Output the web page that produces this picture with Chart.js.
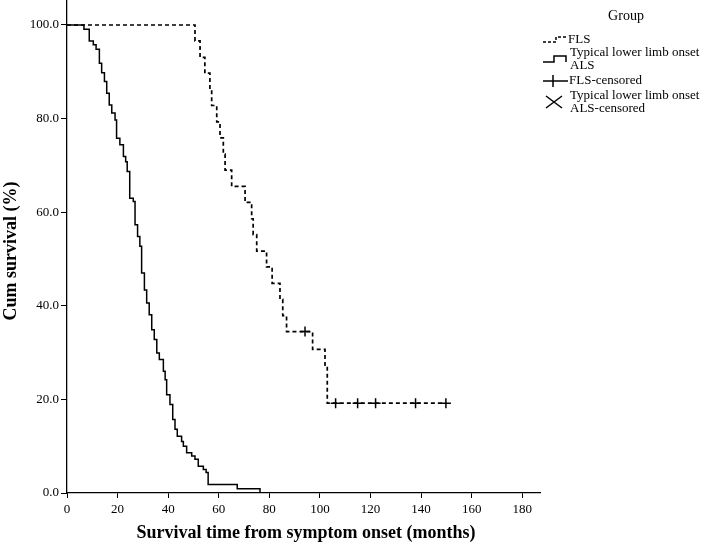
<!DOCTYPE html>
<html><head><meta charset="utf-8">
<script src="https://cdn.jsdelivr.net/npm/chart.js@4.4.0/dist/chart.umd.min.js"></script>
<style>html,body{margin:0;padding:0;background:#fff;}#wrap{position:relative;width:708px;height:547px;}</style>
</head><body><div id="wrap"><canvas id="c" width="708" height="547"></canvas></div>
<script>
// ---- data ----
const groupNames = ["FLS", "Typical lower limb onset ALS"];
const flsTimes = [0, 50.6, 52.6, 54.5, 56.5, 57.2, 59.2, 60.5, 61.8, 62.5, 65.1, 70.4, 73.0, 73.6, 75.0, 78.9, 81.1, 84.2, 85.3, 86.8, 97.1, 102.0, 102.9];
const flsSurv  = [100, 96.6, 93.1, 89.7, 86.2, 82.8, 79.3, 75.9, 72.4, 69.0, 65.5, 62.1, 58.6, 55.2, 51.7, 48.3, 44.8, 41.4, 37.9, 34.5, 30.7, 26.8, 19.2];
const flsCensorTimes = [94.1, 106.2, 114.9, 122.0, 137.8, 149.8];
const flsCensorSurv  = [34.5, 19.2, 19.2, 19.2, 19.2, 19.2];
const alsTimes = [0, 6.7, 8.8, 10.4, 11.5, 12.8, 13.7, 14.8, 15.7, 16.7, 17.7, 19.0, 19.6, 20.9, 22.3, 23.2, 23.8, 24.8, 26.2, 26.9, 27.9, 28.8, 29.5, 30.6, 31.5, 32.5, 33.5, 34.5, 35.5, 36.5, 38.1, 38.8, 39.4, 40.7, 41.8, 42.7, 43.6, 45.3, 46.0, 47.3, 49.3, 50.6, 51.9, 53.9, 55.0, 55.8, 67.3, 76.3];
const alsSurv  = [100, 99.1, 96.6, 95.8, 94.8, 91.8, 89.8, 87.9, 85.4, 82.9, 81.2, 79.7, 75.8, 74.4, 71.9, 70.8, 68.7, 63.0, 62.3, 57.3, 54.8, 52.7, 47.0, 43.4, 40.6, 38.1, 34.9, 32.8, 29.9, 28.5, 26.0, 24.2, 21.0, 18.9, 15.7, 13.6, 12.1, 11.0, 10.0, 8.6, 7.9, 7.2, 5.7, 5.0, 4.4, 1.8, 0.9, 0];
const xTicks = [0, 20, 40, 60, 80, 100, 120, 140, 160, 180];
const yTicks = [0, 20, 40, 60, 80, 100];
const xTitle = "Survival time from symptom onset (months)";
const yTitle = "Cum survival (%)";
const legendTitle = "Group";

// ---- build datasets ----
const flsLine = flsTimes.map((t, i) => ({x: t, y: flsSurv[i]}));
flsLine.push({x: flsCensorTimes[flsCensorTimes.length - 1], y: flsCensorSurv[flsCensorSurv.length - 1]});
const alsLine = alsTimes.map((t, i) => ({x: t, y: alsSurv[i]}));
const flsCens = flsCensorTimes.map((t, i) => ({x: t, y: flsCensorSurv[i]}));

const SERIF = '"Liberation Serif", "Times New Roman", serif';

const extras = {
  id: 'extras',
  afterDraw(chart) {
    const ctx = chart.ctx;
    ctx.save();
    ctx.fillStyle = '#000';
    ctx.strokeStyle = '#000';
    // axis titles
    ctx.font = 'bold 18px ' + SERIF;
    ctx.textAlign = 'center';
    ctx.textBaseline = 'middle';
    ctx.fillText(xTitle, 306, 533);
    ctx.save();
    ctx.translate(11, 251);
    ctx.rotate(-Math.PI / 2);
    ctx.fillText(yTitle, 0, 0);
    ctx.restore();
    // legend
    ctx.font = '14px ' + SERIF;
    ctx.fillText(legendTitle, 626, 16);
    ctx.textAlign = 'left';
    ctx.font = '13px ' + SERIF;
    ctx.fillText(groupNames[0], 568, 40);
    ctx.fillText("Typical lower limb onset", 570, 53);
    ctx.fillText("ALS", 570, 66);
    ctx.fillText(groupNames[0] + "-censored", 569, 81);
    ctx.fillText("Typical lower limb onset", 570, 96);
    ctx.fillText("ALS-censored", 570, 109);
    // symbols
    ctx.lineWidth = 1.5;
    ctx.setLineDash([3, 2]);
    ctx.beginPath();
    ctx.moveTo(543, 42); ctx.lineTo(556, 42); ctx.lineTo(556, 37); ctx.lineTo(567, 37);
    ctx.stroke();
    ctx.setLineDash([]);
    ctx.beginPath();
    ctx.moveTo(543, 62); ctx.lineTo(554, 62); ctx.lineTo(554, 56); ctx.lineTo(566, 56); ctx.lineTo(566, 62);
    ctx.stroke();
    ctx.beginPath();
    ctx.moveTo(543, 81); ctx.lineTo(568, 81);
    ctx.moveTo(553, 75); ctx.lineTo(553, 87);
    ctx.stroke();
    ctx.beginPath();
    ctx.moveTo(546, 96); ctx.lineTo(562, 108);
    ctx.moveTo(546, 108); ctx.lineTo(562, 96);
    ctx.stroke();
    ctx.restore();
  }
};

new Chart(document.getElementById('c'), {
  type: 'line',
  data: {
    datasets: [
      {label: groupNames[0], data: flsLine, stepped: 'before', borderColor: '#000', borderWidth: 1.7, borderDash: [4, 3], pointRadius: 0, fill: false},
      {label: groupNames[1], data: alsLine, stepped: 'before', borderColor: '#000', borderWidth: 1.5, pointRadius: 0, fill: false},
      {label: groupNames[0] + '-censored', data: flsCens, showLine: false, pointStyle: 'cross', pointRadius: 5, borderColor: '#000', borderWidth: 1.5, pointBorderWidth: 1.5}
    ]
  },
  options: {
    responsive: false,
    animation: false,
    devicePixelRatio: 1,
    layout: {autoPadding: false, padding: {left: 0, right: 168, top: 0, bottom: 0}},
    plugins: {legend: {display: false}, tooltip: {enabled: false}},
    scales: {
      x: {
        type: 'linear', min: 0, max: 187,
        afterBuildTicks: s => { s.ticks = xTicks.map(v => ({value: v})); },
        afterFit: s => { s.height = 54; s.paddingLeft = 0; s.paddingRight = 0; },
        grid: {drawOnChartArea: false, drawTicks: true, tickLength: 5, color: '#000'},
        border: {display: true, color: '#000', width: 1.3},
        ticks: {color: '#000', font: {family: SERIF, size: 13}, padding: 4, maxRotation: 0, autoSkip: false}
      },
      y: {
        type: 'linear', min: 0, max: 105.34,
        afterBuildTicks: s => { s.ticks = yTicks.map(v => ({value: v})); },
        afterFit: s => { s.width = 67; s.paddingTop = 0; s.paddingBottom = 0; },
        grid: {drawOnChartArea: false, drawTicks: true, tickLength: 6, color: '#000'},
        border: {display: true, color: '#000', width: 1.3},
        ticks: {color: '#000', font: {family: SERIF, size: 13}, padding: 2, callback: v => Number(v).toFixed(1)}
      }
    }
  },
  plugins: [extras]
});
</script></body></html>
